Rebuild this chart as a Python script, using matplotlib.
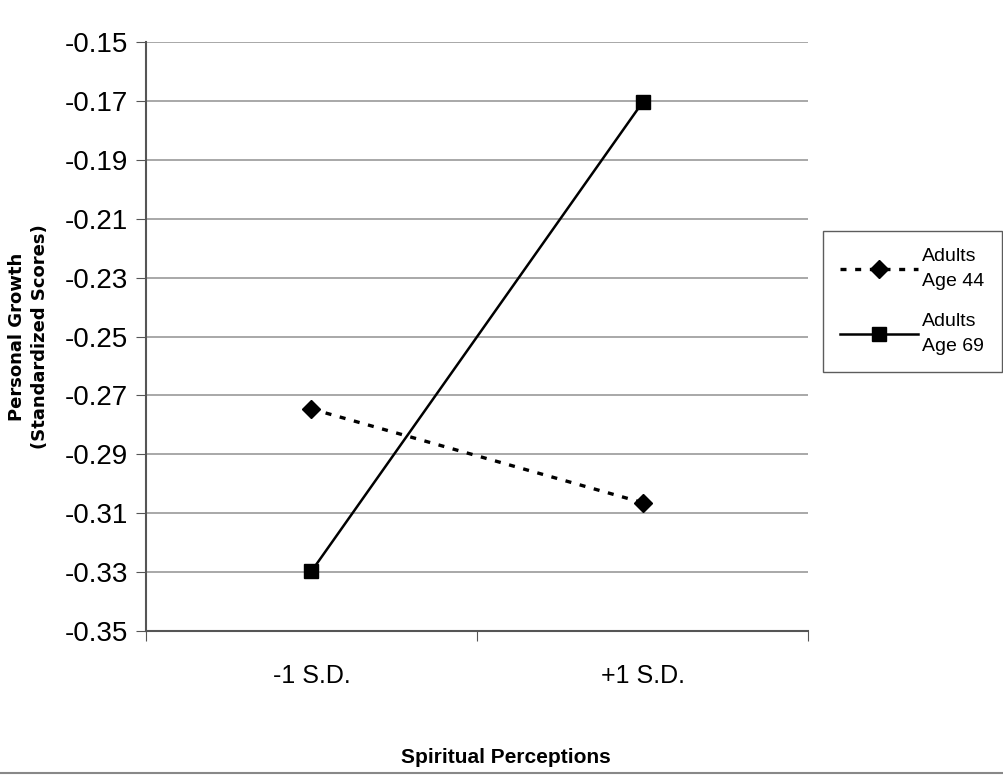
import matplotlib
matplotlib.use('Agg')
import matplotlib.pyplot as plt
from matplotlib.lines import Line2D

categories = ['-1 S.D.', '+1 S.D.']
adults_44 = [-0.2746, -0.3064]
adults_69 = [-0.3297, -0.1705]
yticks = [-0.35, -0.33, -0.31, -0.29, -0.27, -0.25, -0.23, -0.21, -0.19, -0.17, -0.15]

plt.rcParams['font.family'] = ['Liberation Sans', 'DejaVu Sans']

fig = plt.figure(figsize=(10.04, 7.77), dpi=100)
ax = fig.add_axes([0.1454, 0.1879, 0.6594, 0.758])

xpos = [0.5, 1.5]
ax.plot(xpos, adults_44, color='black', linestyle=(0, (1.8, 2.6)), linewidth=2.4,
        marker='D', markersize=9, label='Adults\nAge 44', zorder=3)
ax.plot(xpos, adults_69, color='black', linestyle='-', linewidth=1.8,
        marker='s', markersize=10, label='Adults\nAge 69', zorder=3)

ax.set_xlim(0, 2)
ax.set_ylim(-0.35, -0.15)
ax.set_yticks(yticks)
ax.set_yticklabels(['%.2f' % v for v in yticks], fontsize=20)
ax.set_xticks([0, 1, 2])
ax.set_xticklabels([])
ax.set_xticks(xpos, minor=True)
ax.set_xticklabels(categories, minor=True, fontsize=18)
ax.tick_params(axis='x', which='minor', length=0, pad=24)
ax.tick_params(axis='x', which='major', length=7, color='#555555', direction='out')
ax.tick_params(axis='y', length=7, color='#555555', direction='out', pad=6)

ax.grid(axis='y', color='#999999', linewidth=1.2)
ax.set_axisbelow(True)
for s in ['top', 'right']:
    ax.spines[s].set_visible(False)
for s in ['left', 'bottom']:
    ax.spines[s].set_color('#555555')
    ax.spines[s].set_linewidth(1.5)

fig.text(0.028, 0.5668, 'Personal Growth\n(Standardized Scores)', rotation=90,
         ha='center', va='center', fontsize=13, fontweight='heavy',
         family=['DejaVu Sans'], linespacing=1.35)
fig.text(0.504, 0.025, 'Spiritual Perceptions', ha='center', va='center',
         fontsize=15, fontweight='bold')

leg = fig.legend(loc='center', bbox_to_anchor=(0.9085, 0.612), fontsize=14,
                 frameon=True, fancybox=False, edgecolor='#333333',
                 handlelength=4.0, labelspacing=1.2, borderpad=0.9,
                 handletextpad=0.2, borderaxespad=0)
leg.get_frame().set_linewidth(1.0)
for t in leg.get_texts():
    t.set_linespacing(1.6)

fig.add_artist(Line2D([0, 1], [0.005, 0.005], color='#888888', linewidth=1.5))

fig.savefig('out.png', dpi=100)
